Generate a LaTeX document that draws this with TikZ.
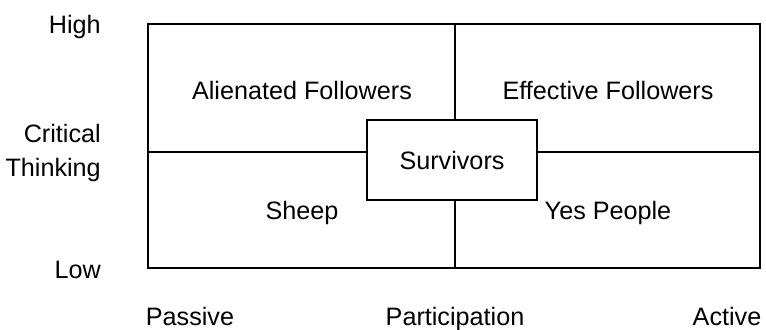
\documentclass[tikz,border=0pt]{standalone}
\usepackage{fontspec}
\setmainfont{Liberation Sans}
\usepackage{tikz}

\begin{document}
\begin{tikzpicture}[x=0.03cm, y=-0.03cm, font=\fontsize{21.5}{29.5}\selectfont,
    frame/.style={line width=1.7pt},
    axislabel/.style={anchor=east, align=right, inner xsep=0pt},
    baselabel/.style={anchor=base, inner sep=0pt},
    cell/.style={anchor=center}]
    \useasboundingbox (0,0) rectangle (766,329);

    % Outer frame and quadrant lines
    \draw[frame] (148,24) rectangle (760,268);
    \draw[frame] (455,24) -- (455,268);
    \draw[frame] (148,152) -- (760,152);

    % Centre box
    \node[frame, draw, fill=white, minimum width=170*0.03cm, minimum height=80*0.03cm] (surv) at (452,160) {Survivors};

    % Quadrant labels
    \node[cell] (alien) at (302,90) {Alienated Followers};
    \node[cell] (effect) at (608,90) {Effective Followers};
    \node[cell] (sheep) at (302,213) {Sheep};
    \node[cell] (yes) at (608,213) {Yes People};

    % Vertical axis
    \node[axislabel] (high) at (101,27) {High};
    \node[axislabel] (crit) at (101,153) {Critical\\Thinking};
    \node[axislabel] (low) at (101,270) {Low};

    % Horizontal axis
    \node[baselabel] (pass) at (190,325) {Passive};
    \node[baselabel] (part) at (455,325) {Participation};
    \node[baselabel] (act) at (727,325) {Active};
\end{tikzpicture}
\end{document}
